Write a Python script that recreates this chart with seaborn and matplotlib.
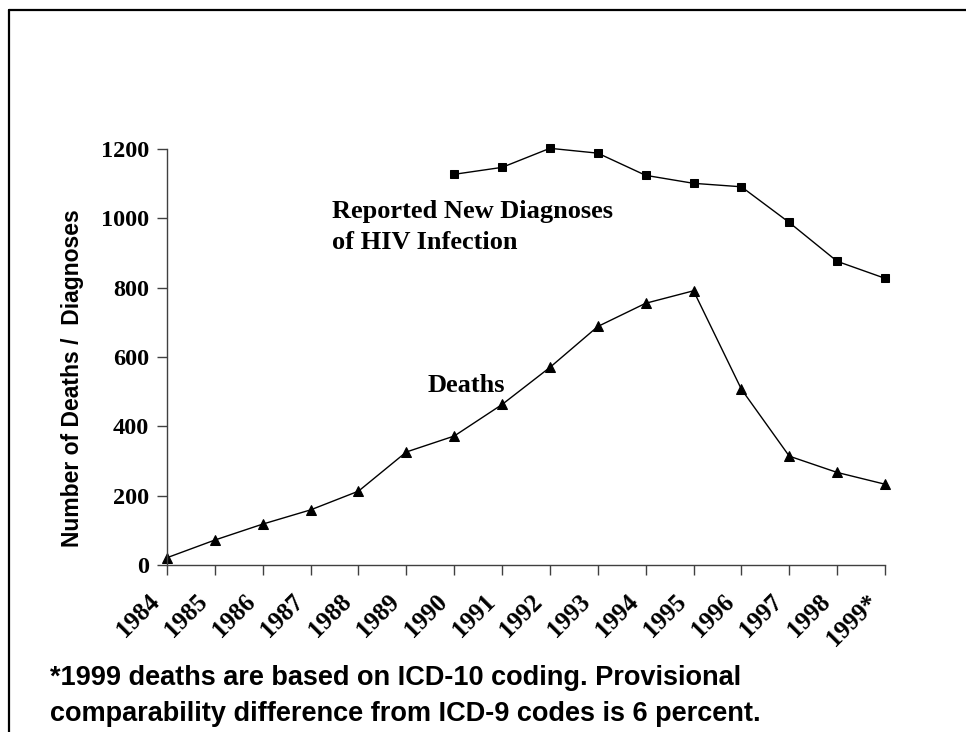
import matplotlib
matplotlib.use("Agg")
import matplotlib.pyplot as plt
from matplotlib.lines import Line2D
from matplotlib.transforms import ScaledTranslation
import seaborn as sns
import numpy as np
import pandas as pd

years = ["1984", "1985", "1986", "1987", "1988", "1989", "1990", "1991",
         "1992", "1993", "1994", "1995", "1996", "1997", "1998", "1999*"]
deaths = [21, 72, 118, 159, 213, 326, 372, 463, 570, 688, 755, 791, 507, 314, 267, 233]
diag_years = ["1990", "1991", "1992", "1993", "1994", "1995", "1996", "1997", "1998", "1999*"]
diagnoses = [1127, 1147, 1202, 1188, 1124, 1101, 1091, 988, 876, 827]
yticks = [0, 200, 400, 600, 800, 1000, 1200]

sns.set_theme(style="white")
plt.rcParams["font.family"] = ["Liberation Serif", "DejaVu Serif"]
plt.rcParams["text.color"] = "black"
plt.rcParams["xtick.color"] = "black"
plt.rcParams["ytick.color"] = "black"

W, H = 966, 732
fig = plt.figure(figsize=(W / 100, H / 100), dpi=100)
ax = fig.add_axes([167 / W, 1 - 565 / H, (885 - 167) / W, (565 - 149) / H])

pos = {y: i for i, y in enumerate(years)}
df_d = pd.DataFrame({"x": [pos[y] for y in years], "v": deaths})
df_h = pd.DataFrame({"x": [pos[y] for y in diag_years], "v": diagnoses})

sns.lineplot(data=df_d, x="x", y="v", ax=ax, color="black", lw=1.0,
             marker="^", markersize=6.5, markeredgecolor="black", markerfacecolor="black",
             clip_on=False)
sns.lineplot(data=df_h, x="x", y="v", ax=ax, color="black", lw=1.0,
             marker="s", markersize=6, markeredgecolor="black", markerfacecolor="black",
             clip_on=False)

ax.set_xlim(0, len(years) - 1)
ax.set_ylim(0, 1200)
ax.set_yticks(yticks)
ax.set_yticklabels([str(t) for t in yticks], fontsize=17.5, fontweight="bold",
                   family="Liberation Serif", color="black")
ax.set_xticks(range(len(years)))
ax.set_xticklabels([])
off = ScaledTranslation(-19 / 100, -25 / 100, fig.dpi_scale_trans)
xt = ax.get_xaxis_transform() + off
for i, lab in enumerate(years):
    ax.text(i, 0, lab, transform=xt, rotation=45, ha="right", va="top",
            rotation_mode="anchor", fontsize=18, fontweight="bold",
            family="Liberation Serif", color="black", clip_on=False)
ax.tick_params(axis="both", which="both", direction="out", length=7, width=1,
               color="#404040", left=True, bottom=True)
ax.tick_params(axis="y", pad=6)
for s in ["top", "right"]:
    ax.spines[s].set_visible(False)
for s in ["left", "bottom"]:
    ax.spines[s].set_color("#404040")
    ax.spines[s].set_linewidth(1.0)
ax.set_xlabel("")
ax.set_ylabel("")

fig.text(73 / W, 1 - 378 / H, "Number of Deaths /  Diagnoses", rotation=90,
         ha="center", va="center", fontsize=16.5, fontweight="bold",
         family="Liberation Sans", color="black")

ax.text(3.45, 976, "Reported New Diagnoses\nof HIV Infection", ha="left", va="center",
        fontsize=19, fontweight="bold", family="Liberation Serif", linespacing=1.45,
        color="black")
ax.text(5.45, 519, "Deaths", ha="left", va="center",
        fontsize=19, fontweight="bold", family="Liberation Serif", color="black")

fig.text(50 / W, 1 - 696 / H,
         "*1999 deaths are based on ICD-10 coding. Provisional\ncomparability difference from ICD-9 codes is 6 percent.",
         ha="left", va="center", fontsize=19.5, fontweight="bold",
         family="Liberation Sans", linespacing=1.5, color="black")

# frame border (left and top edges visible)
fig.add_artist(Line2D([9 / W, 9 / W], [0, 1 - 10 / H], transform=fig.transFigure,
                      color="black", lw=1.6))
fig.add_artist(Line2D([9 / W, 1], [1 - 10 / H, 1 - 10 / H], transform=fig.transFigure,
                      color="black", lw=1.6))

fig.savefig("out.png", dpi=100, facecolor="white")
